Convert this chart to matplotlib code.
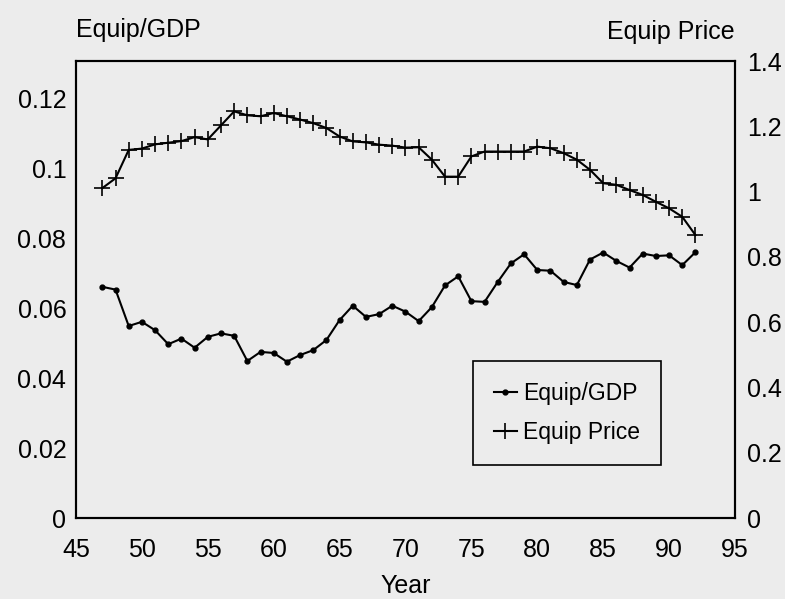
import numpy as np
import matplotlib
matplotlib.use("Agg")
import matplotlib.pyplot as plt
from matplotlib.ticker import FuncFormatter

plt.rcParams['font.family'] = ['Liberation Sans', 'DejaVu Sans']

# data
years_gdp = list(range(47, 93))
equip_gdp = [0.0661, 0.0653, 0.0549, 0.0561, 0.0537, 0.0497, 0.0513, 0.0487, 0.0518, 0.0528,
             0.0521, 0.0449, 0.0475, 0.0472, 0.0447, 0.0466, 0.0480, 0.0509, 0.0566, 0.0607,
             0.0575, 0.0583, 0.0607, 0.0590, 0.0563, 0.0603, 0.0665, 0.0691, 0.0620, 0.0618,
             0.0675, 0.0728, 0.0754, 0.0709, 0.0707, 0.0675, 0.0666, 0.0739, 0.0759, 0.0735,
             0.0716, 0.0756, 0.0749, 0.0751, 0.0723, 0.0760]

years_price = list(range(47, 93))
equip_price = [1.011, 1.041, 1.128, 1.132, 1.145, 1.150, 1.155, 1.167, 1.160, 1.203,
               1.246, 1.234, 1.231, 1.241, 1.231, 1.221, 1.210, 1.195, 1.169, 1.154,
               1.151, 1.144, 1.141, 1.135, 1.136, 1.098, 1.046, 1.046, 1.108, 1.123,
               1.123, 1.123, 1.123, 1.138, 1.133, 1.118, 1.098, 1.067, 1.026, 1.021,
               1.005, 0.990, 0.969, 0.949, 0.923, 0.867]

x_ticks = list(range(45, 96, 5))
left_ticks = [0, 0.02, 0.04, 0.06, 0.08, 0.1, 0.12]
right_ticks = [0, 0.2, 0.4, 0.6, 0.8, 1, 1.2, 1.4]

bg = '#ececec'
fig = plt.figure(figsize=(7.85, 5.99), dpi=100, facecolor=bg)
ax = fig.add_axes([0.0968, 0.135, 0.8395, 0.763], facecolor=bg)
ax2 = ax.twinx()

l1, = ax.plot(years_gdp, equip_gdp, color='black', lw=1.5, marker='o', ms=3.5)
l2, = ax2.plot(years_price, equip_price, color='black', lw=1.5, marker='+', ms=11, mew=1.2)

ax.set_xlim(45, 95)
ax.set_ylim(0, 0.1306)
ax2.set_ylim(0, 1.4)

fmt = FuncFormatter(lambda v, p: '%g' % v)
ax.set_xticks(x_ticks)
ax.set_yticks(left_ticks)
ax2.set_yticks(right_ticks)
ax.yaxis.set_major_formatter(fmt)
ax2.yaxis.set_major_formatter(fmt)

ax.tick_params(axis='y', length=0, pad=7, labelsize=18)
ax.tick_params(axis='x', length=0, pad=14, labelsize=18)
ax2.tick_params(axis='y', length=0, pad=9, labelsize=18)

for a in (ax, ax2):
    for s in a.spines.values():
        s.set_linewidth(1.5)
        s.set_color('black')

ax.set_xlabel('Year', fontsize=18, labelpad=9)

fig.text(76 / 785, 1 - 30 / 599, 'Equip/GDP', fontsize=18, ha='left', va='center')
fig.text(735 / 785, 1 - 32 / 599, 'Equip Price', fontsize=18, ha='right', va='center')

leg = ax2.legend([l1, l2], ['Equip/GDP', 'Equip Price'], loc='lower left',
                 bbox_to_anchor=(0.585, 0.092), fontsize=16.5, frameon=True,
                 fancybox=False, edgecolor='black', facecolor=bg, framealpha=1,
                 handlelength=1.0, handletextpad=0.3, borderpad=0.9, labelspacing=0.7)
leg.get_frame().set_linewidth(1.2)

plt.savefig('out.png', dpi=100, facecolor=bg)
